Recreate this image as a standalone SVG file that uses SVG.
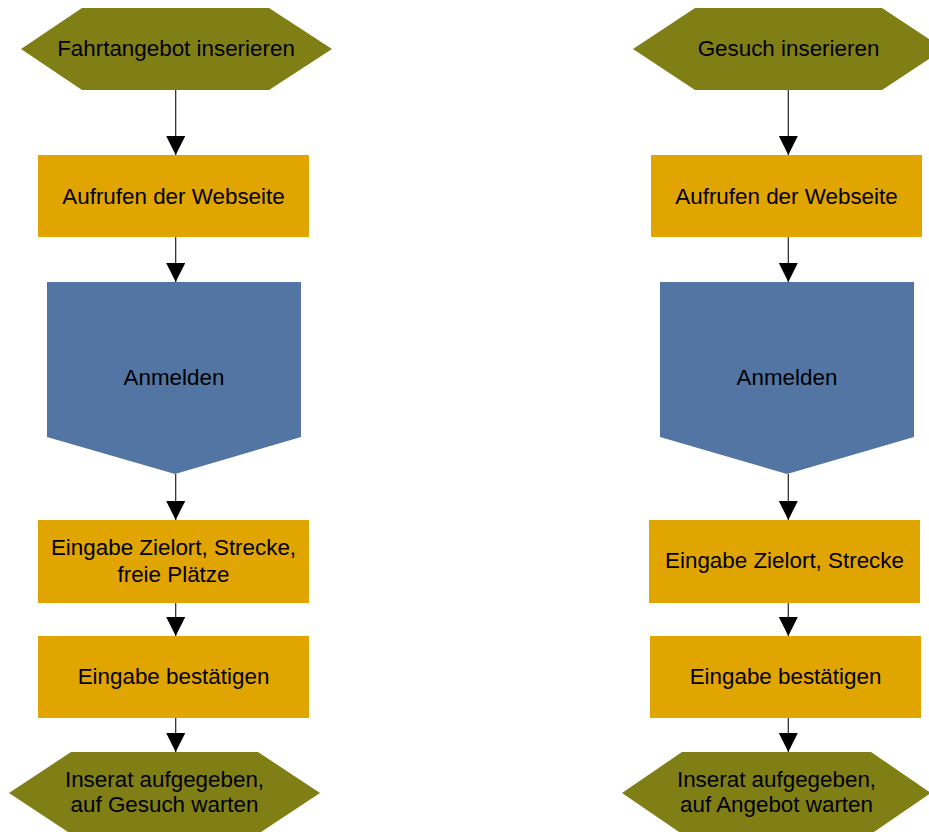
<svg xmlns="http://www.w3.org/2000/svg" width="929" height="832" viewBox="0 0 929 832">
  <style>
    .term { fill: #807F16; }
    .step { fill: #E0A500; }
    .sub  { fill: #5275A4; }
    .lbl  { font-family: "Liberation Sans", Arial, sans-serif; font-size: 22.4px; fill: #000; text-anchor: middle; }
    .edge { stroke: #222; stroke-width: 1.2; fill: none; marker-end: url(#arrow); }
  </style>
  <defs>
    <marker id="arrow" markerUnits="userSpaceOnUse" markerWidth="19" markerHeight="20" refX="19" refY="9.5" orient="auto">
      <path d="M0,0 L19,9.5 L0,19 Z" fill="#000"/>
    </marker>
  </defs>
  <rect width="929" height="832" fill="#fff"/>

  <!-- left flow: offer -->
  <g id="offer-start">
    <polygon class="term" points="21,49 82,8 269,8 332,49 269,90 82,90"/>
    <text class="lbl" x="176" y="56">Fahrtangebot inserieren</text>
  </g>
  <g id="offer-open-site">
    <rect class="step" x="38" y="155" width="271" height="82"/>
    <text class="lbl" x="173.5" y="204">Aufrufen der Webseite</text>
  </g>
  <g id="offer-login">
    <polygon class="sub" points="47,282 301,282 301,437 175,474 47,437"/>
    <text class="lbl" x="174" y="385">Anmelden</text>
  </g>
  <g id="offer-input">
    <rect class="step" x="38" y="520" width="271" height="83"/>
    <text class="lbl" x="173.5" y="555">Eingabe Zielort, Strecke,</text>
    <text class="lbl" x="173.5" y="582">freie Plätze</text>
  </g>
  <g id="offer-confirm">
    <rect class="step" x="38" y="636" width="271" height="82"/>
    <text class="lbl" x="173.5" y="684">Eingabe bestätigen</text>
  </g>
  <g id="offer-end">
    <polygon class="term" points="9,793 71,752 258,752 320,793 258,834 71,834"/>
    <text class="lbl" x="164.5" y="787">Inserat aufgegeben,</text>
    <text class="lbl" x="164.5" y="812">auf Gesuch warten</text>
  </g>

  <!-- right flow: request -->
  <g id="request-start">
    <polygon class="term" points="633,49 695,8 882,8 944,49 882,90 695,90"/>
    <text class="lbl" x="788.5" y="56">Gesuch inserieren</text>
  </g>
  <g id="request-open-site">
    <rect class="step" x="651" y="155" width="271" height="82"/>
    <text class="lbl" x="786.5" y="204">Aufrufen der Webseite</text>
  </g>
  <g id="request-login">
    <polygon class="sub" points="660,282 914,282 914,437 787,474 660,437"/>
    <text class="lbl" x="787" y="385">Anmelden</text>
  </g>
  <g id="request-input">
    <rect class="step" x="649" y="520" width="271" height="83"/>
    <text class="lbl" x="784.5" y="568">Eingabe Zielort, Strecke</text>
  </g>
  <g id="request-confirm">
    <rect class="step" x="650" y="636" width="271" height="82"/>
    <text class="lbl" x="785.5" y="684">Eingabe bestätigen</text>
  </g>
  <g id="request-end">
    <polygon class="term" points="622,793 682,752 871,752 931,793 871,834 682,834"/>
    <text class="lbl" x="776.5" y="787">Inserat aufgegeben,</text>
    <text class="lbl" x="776.5" y="812">auf Angebot warten</text>
  </g>

  <!-- connectors -->
  <g id="edges">
    <path class="edge" d="M175.7,90 V155"/>
    <path class="edge" d="M175.7,237 V282"/>
    <path class="edge" d="M175.7,474 V520"/>
    <path class="edge" d="M175.7,603 V636"/>
    <path class="edge" d="M175.7,718 V752"/>
    <path class="edge" d="M788.3,90 V155"/>
    <path class="edge" d="M788.3,237 V282"/>
    <path class="edge" d="M788.3,474 V520"/>
    <path class="edge" d="M788.3,603 V636"/>
    <path class="edge" d="M788.3,718 V752"/>
  </g>
</svg>
